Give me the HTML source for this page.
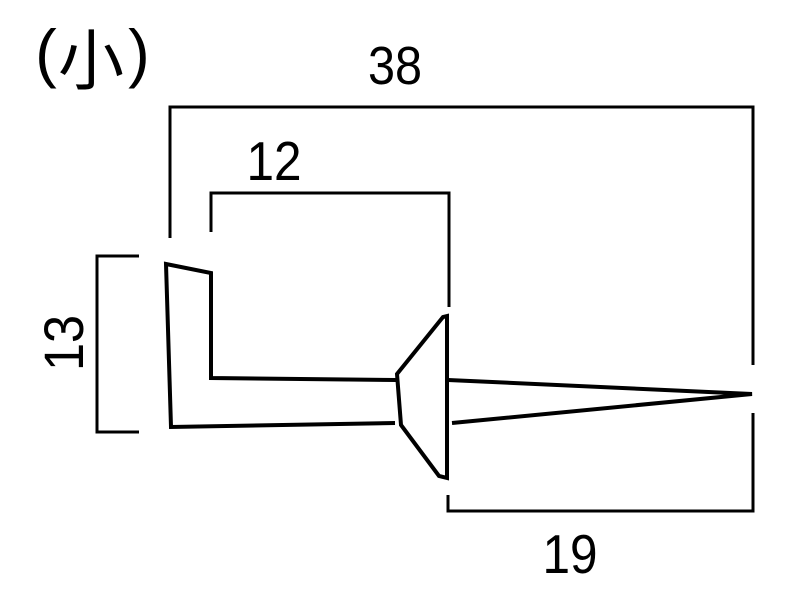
<!DOCTYPE html>
<html><head><meta charset="utf-8"><style>
html,body{margin:0;padding:0;background:#fff;}
svg{display:block;}
</style></head><body>
<svg width="800" height="600" viewBox="0 0 800 600" xmlns="http://www.w3.org/2000/svg">
<rect width="800" height="600" fill="#fff"/>
<g font-family="'Liberation Sans', 'Noto Sans CJK JP', sans-serif" fill="#000">
  <text x="46" y="75" font-size="65" text-anchor="middle">(</text>
  <text x="91" y="84" font-size="66" text-anchor="middle" font-family="'Noto Sans CJK JP', sans-serif">小</text>
  <text x="139" y="75" font-size="65" text-anchor="middle">)</text>
  <text transform="translate(395,84) scale(0.9,1)" font-size="54" text-anchor="middle">38</text>
  <text transform="translate(274,180) scale(0.9,1)" font-size="55" text-anchor="middle">12</text>
  <text transform="translate(570,573) scale(0.9,1)" font-size="55" text-anchor="middle">19</text>
  <text transform="translate(83,343) rotate(-90) scale(0.9,1)" font-size="56" text-anchor="middle">13</text>
</g>
<g fill="none" stroke="#000" stroke-width="3" stroke-linejoin="miter" stroke-linecap="butt">
  <path d="M170,238 V107 H753 V365"/>
  <path d="M211,232 V193 H449 V307"/>
  <path d="M139,256 H97 V432 H139"/>
  <path d="M448,495 V511 H753 V413"/>
</g>
<g fill="none" stroke="#000" stroke-width="4" stroke-linejoin="miter" stroke-linecap="butt">
  <path d="M396,380 L211,378 L211,273 L166,264 L171,427 L395,423"/>
  <path d="M447,316 V478 L439,476 L401,425 L397,374 L443,317 Z"/>
  <path d="M448,380 L752,394 L452,423"/>
</g>
</svg>
</body></html>
